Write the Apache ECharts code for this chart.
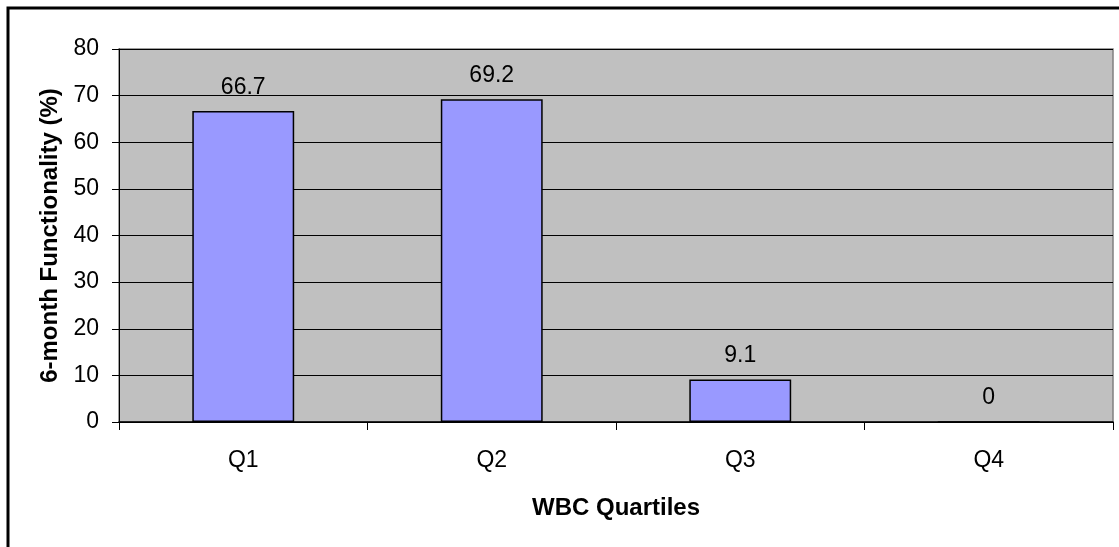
<!DOCTYPE html>
<html>
<head>
<meta charset="utf-8">
<script src="https://cdn.jsdelivr.net/npm/echarts@6/dist/echarts.min.js"></script>
<style>
html,body{margin:0;padding:0;background:#fff;}
#chart{width:1119px;height:547px;}
</style>
</head>
<body>
<div id="chart"></div>
<script>
const categories = ['Q1', 'Q2', 'Q3', 'Q4'];
const functionality = [66.7, 69.2, 9.1, 0];
const yTicks = [0, 10, 20, 30, 40, 50, 60, 70, 80];

const FONT = '"Liberation Sans", Arial, sans-serif';
const chart = echarts.init(document.getElementById('chart'));
chart.setOption({
  animation: false,
  backgroundColor: '#ffffff',
  textStyle: { fontFamily: FONT },
  graphic: [{
    type: 'rect',
    shape: { x: 8, y: 8, width: 1300, height: 700 },
    style: { fill: 'none', stroke: '#000', lineWidth: 3 },
    silent: true
  }],
  grid: {
    left: 119, right: 6, top: 49, bottom: 125,
    show: true, backgroundColor: '#C0C0C0', borderColor: '#808080', borderWidth: 1.5
  },
  xAxis: {
    type: 'category',
    data: categories,
    name: 'WBC Quartiles',
    nameLocation: 'middle',
    nameGap: 74,
    nameTextStyle: { fontFamily: FONT, fontSize: 24, fontWeight: 'bold', color: '#000' },
    axisLine: { lineStyle: { color: '#000', width: 1.5 } },
    axisTick: { show: true, length: 8, lineStyle: { color: '#000' } },
    axisLabel: { fontFamily: FONT, fontSize: 23, color: '#000', margin: 27 }
  },
  yAxis: {
    type: 'value',
    min: yTicks[0],
    max: yTicks[yTicks.length - 1],
    interval: yTicks[1] - yTicks[0],
    name: '6-month Functionality (%)',
    nameLocation: 'middle',
    nameGap: 56,
    nameTextStyle: { fontFamily: FONT, fontSize: 24, fontWeight: 'bold', color: '#000' },
    axisLine: { show: true, lineStyle: { color: '#000', width: 1 } },
    axisTick: { show: true, length: 7, lineStyle: { color: '#000' } },
    axisLabel: { fontFamily: FONT, fontSize: 23, color: '#000', margin: 20 },
    splitLine: { show: true, lineStyle: { color: '#000', width: 1 } }
  },
  series: [{
    type: 'bar',
    data: functionality,
    barCategoryGap: '59%',
    itemStyle: { color: '#9999FF', borderColor: '#000', borderWidth: 1.5 },
    label: {
      show: true, position: 'top', distance: 12,
      fontFamily: FONT, fontSize: 23, color: '#000'
    }
  }]
});
</script>
</body>
</html>
